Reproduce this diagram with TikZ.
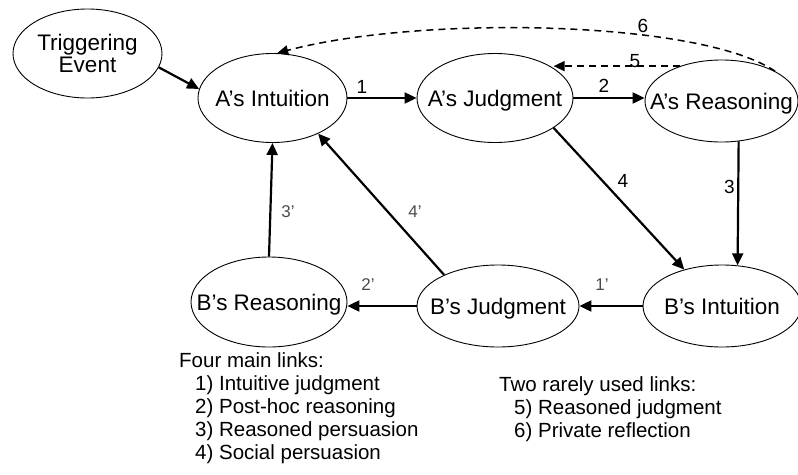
\documentclass[tikz,border=0pt]{standalone}
\usepackage{fontspec}
\setmainfont{Liberation Sans}
\usetikzlibrary{arrows.meta,shapes.geometric}
\begin{document}
\begin{tikzpicture}[x=1pt,y=-1pt,
  ell/.style={draw, ellipse, line width=0.9pt, inner sep=0pt},
  etext/.style={font=\fontsize{22.5}{26}\selectfont, inner sep=0pt, text height=16pt, text depth=0pt, align=center},
  link/.style={line width=2.2pt, -{Triangle[length=12pt,width=11pt]}},
  dlink/.style={line width=1.5pt, dash pattern=on 7pt off 5pt, -{Triangle[length=11pt,width=10pt]}},
  num/.style={font=\fontsize{19}{22}\selectfont, inner sep=0pt, text=black},
  pnum/.style={font=\fontsize{17}{20}\selectfont, inner sep=0pt, text=black!70},
  leg/.style={font=\fontsize{20.5}{24}\selectfont, inner sep=0pt, anchor=base west}
]
\useasboundingbox (0,0) rectangle (798,474);
\fill[white] (0,0) rectangle (798,474);

% ellipses
\node[ell, minimum width=149pt, minimum height=89pt] (trig) at (87.5,53.5) {};
\node[ell, minimum width=149pt, minimum height=89pt] (ai) at (272.5,98) {};
\node[ell, minimum width=156pt, minimum height=89pt] (aj) at (495,98) {};
\node[ell, minimum width=153pt, minimum height=82pt] (ar) at (721.5,101) {};
\node[ell, minimum width=156pt, minimum height=90pt] (br) at (269,302) {};
\node[ell, minimum width=162pt, minimum height=82pt] (bj) at (498,306) {};
\node[ell, minimum width=158pt, minimum height=82pt] (bi) at (722,306) {};

% texts
\node[font=\fontsize{22.5}{22}\selectfont, inner sep=0pt, align=center] (trigt) at (trig) {Triggering\\Event};
\node[etext] (ait) at (ai) {A's Intuition};
\node[etext] (ajt) at (aj) {A's Judgment};
\node[etext] (art) at (ar) {A's Reasoning};
\node[etext] (brt) at (br) {B's Reasoning};
\node[etext] (bjt) at (bj) {B's Judgment};
\node[etext] (bit) at (bi) {B's Intuition};

% connectors
\draw[link] (trig.-11) -- (ai.173);
\draw[link] (ai.east) -- (aj.west);
\draw[link] (aj.east) -- (ar.west |- aj.east);
\draw[link] (ar.-67) -- (bi.69);
\draw[link] (aj.-27) -- (bi.136);
\draw[link] (bi.west) -- (bj.east);
\draw[link] (bj.west) -- (br.east |- bj.west);
\draw[link] (br.north) -- (ai.south);
\draw[link] (bj.150) -- (ai.-38);
\draw[dlink] (ar.140) -- (ar.140 -| aj.27);
\draw[dlink] (ar.29) .. controls (700,20) and (420,15) .. (ai.84);

% link labels
\node[num] (l1) at (362,87) {1};
\node[num] (l2) at (604,86) {2};
\node[num, anchor=east] (l3) at (735,187) {3};
\node[num] (l4) at (623,181) {4};
\node[num] (l5) at (635,61) {5};
\node[num] (l6) at (643,26) {6};
\node[pnum] (p1) at (602,285) {1'};
\node[pnum] (p2) at (368,285) {2'};
\node[pnum] (p3) at (288,212) {3'};
\node[pnum] (p4) at (415,212) {4'};

% legend
\node[leg] (g0) at (179,367) {Four main links:};
\node[leg] (g1) at (195,390) {1) Intuitive judgment};
\node[leg] (g2) at (195,413) {2) Post-hoc reasoning};
\node[leg] (g3) at (195,436) {3) Reasoned persuasion};
\node[leg] (g4) at (195,459) {4) Social persuasion};
\node[leg] (h0) at (499,391) {Two rarely used links:};
\node[leg] (h1) at (514,414) {5) Reasoned judgment};
\node[leg] (h2) at (514,437) {6) Private reflection};
\end{tikzpicture}
\end{document}
